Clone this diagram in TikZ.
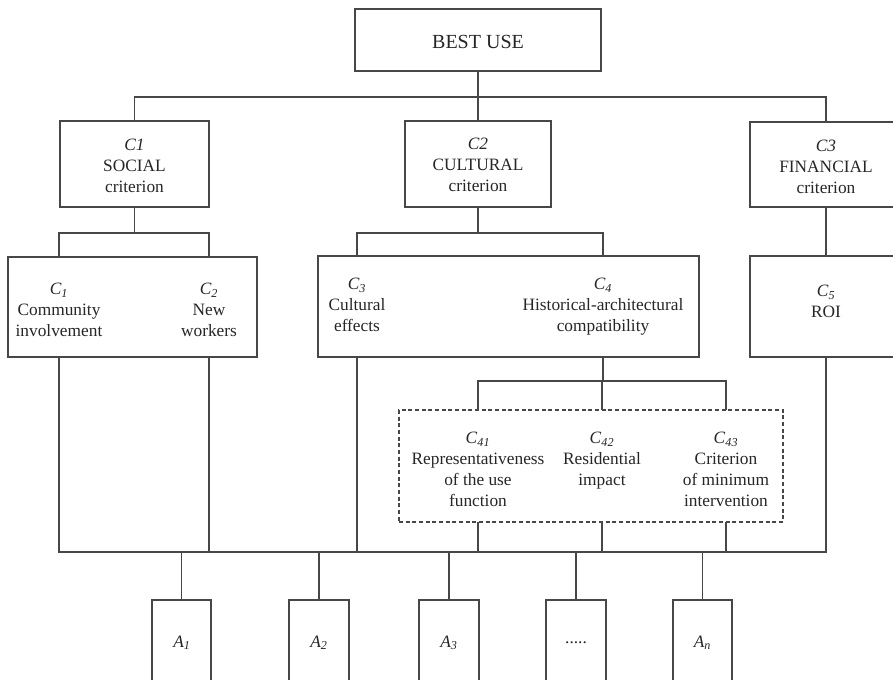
\documentclass[tikz,border=0pt]{standalone}
\usepackage{fontspec}
\setmainfont{Liberation Serif}
\usetikzlibrary{fit}
% italic letter with italic subscript, e.g. C_1, A_n
\newcommand\crit[2]{\textit{#1}\textsubscript{\textit{#2}}}
\begin{document}
\begin{tikzpicture}[x=0.75pt,y=-0.75pt,
  box/.style={draw=black!72, line width=0.8pt, inner sep=0pt, outer sep=0pt, rectangle},
  dbox/.style={box, dash pattern=on 3pt off 2pt},
  conn/.style={draw=black!72, line width=0.8pt},
  lbl/.style={anchor=north, inner sep=0pt, align=center, text=black!85,
              font=\fontsize{13}{15.75}\selectfont},
  alt/.style={inner sep=0pt, text=black!85, font=\fontsize{13}{15.75}\selectfont}]
\useasboundingbox (0,0) rectangle (893,680);
\clip (0,0) rectangle (893,680);

% ---- boxes ----
\node[box, fit={(355,9) (601,71)}] (best) {};
\node[box, fit={(60,121) (209,207)}] (c1) {};
\node[box, fit={(405,121) (551,207)}] (c2) {};
\node[box, fit={(750,122) (902,207)}] (c3) {};
\node[box, fit={(8,257) (257,357)}] (g1) {};
\node[box, fit={(318,256) (699,357)}] (g2) {};
\node[box, fit={(750,256) (902,357)}] (g5) {};
\node[dbox, fit={(399,410) (783,522)}] (d4) {};
\node[box, fit={(152,600) (211,688)}] (a1) {};
\node[box, fit={(289,600) (349,688)}] (a2) {};
\node[box, fit={(419,600) (479,688)}] (a3) {};
\node[box, fit={(546,600) (606,688)}] (a4) {};
\node[box, fit={(673,600) (732,688)}] (an) {};

% ---- texts ----
\node[alt, font=\fontsize{15}{18}\selectfont] (tb) at (478,42) {BEST USE};
\node[lbl] (t01) at (134.5,139) {\textit{C1}\\SOCIAL\\criterion};
\node[lbl] (t02) at (478,138) {\textit{C2}\\CULTURAL\\criterion};
\node[lbl] (t03) at (826,140) {\textit{C3}\\FINANCIAL\\criterion};
\node[lbl] (t1) at (59,283) {\crit{C}{1}\\Community\\involvement};
\node[lbl] (t2) at (209,283) {\crit{C}{2}\\New\\workers};
\node[lbl] (t3) at (357,278) {\crit{C}{3}\\Cultural\\effects};
\node[lbl] (t4) at (603,278) {\crit{C}{4}\\Historical-architectural\\compatibility};
\node[lbl] (t5) at (826,285) {\crit{C}{5}\\ROI};
\node[lbl] (t41) at (478,432) {\crit{C}{41}\\Representativeness\\of the use\\function};
\node[lbl] (t42) at (602,432) {\crit{C}{42}\\Residential\\impact};
\node[lbl] (t43) at (726,432) {\crit{C}{43}\\Criterion\\of minimum\\intervention};
\node[alt] (la1) at (182,643) {\crit{A}{1}};
\node[alt] (la2) at (319,643) {\crit{A}{2}};
\node[alt] (la3) at (449,643) {\crit{A}{3}};
\node[alt] (la4) at (576,643) {.....};
\node[alt] (lan) at (702.5,643) {\crit{A}{n}};

% ---- bus levels ----
\coordinate (bus0) at (0,97);
\coordinate (bus1) at (0,233);
\coordinate (bus2) at (0,381);
\coordinate (bus3) at (0,552);

% ---- connectors ----
\draw[conn] (best.south) -- (best.south |- c2.north);
\draw[conn] (c1.north) -- (c1.north |- bus0) -| (c3.north);

\draw[conn] (c1.south) -- (c1.south |- bus1);
\draw[conn] (t1 |- g1.north) -- (t1 |- bus1) -| (t2 |- g1.north);
\draw[conn] (c2.south) -- (c2.south |- bus1);
\draw[conn] (t3 |- g2.north) -- (t3 |- bus1) -| (t4 |- g2.north);
\draw[conn] (c3.south) -- (g5.north);

\draw[conn] (t4 |- g2.south) -- (t4 |- bus2);
\draw[conn] (t41 |- d4.north) -- (t41 |- bus2) -| (t43 |- d4.north);
\draw[conn] (t42 |- d4.north) -- (t42 |- bus2);

\draw[conn] (t1 |- g1.south) -- (t1 |- bus3) -| (g5.south);
\draw[conn] (t2 |- g1.south) -- (t2 |- bus3);
\draw[conn] (t3 |- g2.south) -- (t3 |- bus3);
\draw[conn] (t41 |- d4.south) -- (t41 |- bus3);
\draw[conn] (t42 |- d4.south) -- (t42 |- bus3);
\draw[conn] (t43 |- d4.south) -- (t43 |- bus3);

\draw[conn] (a1.north) -- (a1.north |- bus3);
\draw[conn] (a2.north) -- (a2.north |- bus3);
\draw[conn] (a3.north) -- (a3.north |- bus3);
\draw[conn] (a4.north) -- (a4.north |- bus3);
\draw[conn] (an.north) -- (an.north |- bus3);
\end{tikzpicture}
\end{document}
